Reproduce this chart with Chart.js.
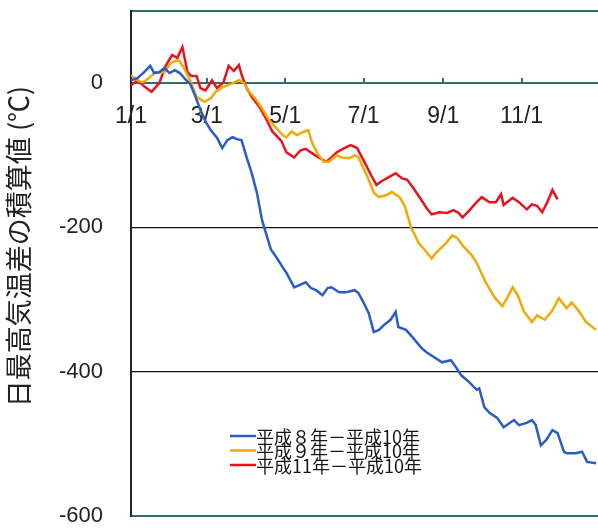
<!DOCTYPE html>
<html lang="ja">
<head>
<meta charset="utf-8">
<script src="https://cdn.jsdelivr.net/npm/chart.js@4/dist/chart.umd.min.js"></script>
<style>
  html, body { margin: 0; padding: 0; background: #fff; overflow: hidden; }
  #wrap { width: 602px; height: 528px; }
</style>
</head>
<body>
<div id="wrap"><canvas id="c" width="602" height="528"></canvas></div>
<script>
// Day of year (0 = 1/1) and cumulative difference of daily max temperature (°C)
const h8Days = [0,5,10,15,18,22,26,30,34,38,42,46,50,54,58,62,67,71,75,79,83,86,90,94,98,102,105,109,113,118,121,127,131,136,140,144,149,153,156,162,167,174,177,181,185,189,193,197,202,206,208,214,219,226,230,236,242,249,253,257,263,269,271,275,279,285,290,298,302,308,312,315,319,323,328,332,337,339,346,351,355,362];
const h8Vals = [4,7,15,24,14,15,21,14,18,14,6,-1,-18,-37,-53,-65,-76,-90,-79,-75,-78,-79,-103,-125,-152,-190,-208,-231,-241,-255,-263,-283,-280,-276,-284,-287,-294,-284,-283,-290,-290,-287,-291,-304,-319,-345,-342,-335,-328,-317,-338,-342,-352,-367,-373,-380,-387,-384,-394,-405,-414,-425,-423,-449,-457,-464,-477,-467,-474,-471,-467,-474,-502,-495,-481,-485,-511,-513,-513,-511,-525,-527];

const h9Days = [0,5,9,14,19,26,31,37,41,47,51,57,62,66,71,78,84,88,92,97,102,107,113,118,121,125,129,135,138,141,145,150,154,160,164,170,174,177,181,185,189,193,199,203,209,213,218,224,230,234,237,245,250,254,259,265,269,276,283,289,293,297,301,306,312,316,322,328,333,339,343,349,354,362];
const h9Vals = [11,4,1,7,15,15,28,32,22,0,-19,-26,-21,-12,-6,-1,4,0,-12,-22,-35,-50,-62,-72,-75,-67,-72,-67,-65,-83,-97,-109,-109,-100,-103,-104,-100,-103,-118,-134,-152,-158,-155,-151,-158,-170,-200,-222,-234,-243,-236,-222,-211,-215,-227,-238,-249,-276,-297,-309,-297,-283,-294,-317,-331,-322,-328,-315,-298,-312,-304,-317,-331,-342];

const h11Days = [0,5,10,16,22,27,32,36,40,44,47,51,54,58,63,67,72,76,80,84,86,90,94,100,105,110,117,121,127,132,136,140,146,152,156,160,166,171,176,181,187,191,195,201,206,211,215,220,226,230,234,240,246,251,255,258,263,269,273,279,284,288,290,297,302,308,312,316,320,324,328,332];
const h11Vals = [-3,4,-4,-12,0,24,39,35,50,15,10,10,-7,-10,4,-7,1,24,17,25,12,-7,-19,-33,-49,-67,-80,-96,-103,-93,-91,-96,-103,-109,-103,-96,-90,-86,-90,-107,-128,-141,-136,-130,-125,-132,-134,-146,-162,-173,-182,-179,-180,-176,-180,-186,-177,-165,-158,-165,-165,-154,-169,-159,-165,-175,-168,-170,-179,-165,-148,-161];

const seriesLabels = ['平成８年－平成10年', '平成９年－平成10年', '平成11年－平成10年'];
const seriesColors = ['#2a5cc6', '#f0aa08', '#e8121e'];

const tickDays = [0, 59, 120, 181, 243, 304];
const tickLabels = ['1/1', '3/1', '5/1', '7/1', '9/1', '11/1'];
const yTickValues = [-600, -400, -200, 0];
const yTitle = '日最高気温差の積算値 (℃)';

const frameTeal = '#2f6d75';
const frameDark = '#1b2333';

const toPoints = (days, vals) => days.map((d, i) => ({ x: d, y: vals[i] }));

// Keep tick-label padding from shrinking the plot area
const noEdgePadding = scale => {
  scale.paddingTop = 0;
  scale.paddingBottom = 0;
  scale.paddingLeft = 0;
  scale.paddingRight = 0;
};

// Legend drawn inside the plot, lower middle
const innerLegend = {
  id: 'innerLegend',
  afterDatasetsDraw(chart) {
    const { ctx, chartArea } = chart;
    const x0 = chartArea.left + 99;
    const y0 = chartArea.top + 425;
    ctx.save();
    ctx.font = '18px "Noto Sans CJK JP"';
    ctx.textBaseline = 'middle';
    ctx.textAlign = 'left';
    chart.data.datasets.forEach((ds, i) => {
      const y = y0 + i * 14.5;
      ctx.strokeStyle = ds.borderColor;
      ctx.lineWidth = 2.5;
      ctx.beginPath();
      ctx.moveTo(x0, y);
      ctx.lineTo(x0 + 26, y);
      ctx.stroke();
      ctx.fillStyle = '#151515';
      ctx.fillText(ds.label, x0 + 26, y + 1);
    });
    ctx.restore();
  }
};

// Vertical axis title
const axisTitle = {
  id: 'axisTitle',
  afterDraw(chart) {
    const { ctx, chartArea } = chart;
    ctx.save();
    ctx.translate(19, (chartArea.top + chartArea.bottom) / 2 - 17);
    ctx.rotate(-Math.PI / 2);
    ctx.font = '27px "Noto Sans CJK JP"';
    ctx.fillStyle = '#222';
    ctx.textAlign = 'center';
    ctx.textBaseline = 'middle';
    ctx.fillText(yTitle, 0, 0);
    ctx.restore();
  }
};

new Chart(document.getElementById('c'), {
  type: 'line',
  data: {
    datasets: [
      { label: seriesLabels[0], data: toPoints(h8Days, h8Vals), borderColor: seriesColors[0] },
      { label: seriesLabels[1], data: toPoints(h9Days, h9Vals), borderColor: seriesColors[1] },
      { label: seriesLabels[2], data: toPoints(h11Days, h11Vals), borderColor: seriesColors[2] }
    ].map(ds => Object.assign(ds, { borderWidth: 2.5, pointRadius: 0, tension: 0, fill: false }))
  },
  options: {
    responsive: false,
    animation: false,
    devicePixelRatio: 1,
    layout: { padding: { left: 0, right: 2, top: 11, bottom: 12 } },
    plugins: { legend: { display: false }, tooltip: { enabled: false } },
    scales: {
      x: {
        type: 'linear',
        position: { y: 0 },
        min: 0,
        max: 365,
        afterBuildTicks(scale) { scale.ticks = tickDays.map(v => ({ value: v })); },
        afterFit: noEdgePadding,
        ticks: {
          autoSkip: false,
          maxRotation: 0,
          padding: 26,
          color: '#222',
          font: { family: '"Liberation Sans", Arial, sans-serif', size: 23 },
          callback: v => tickLabels[tickDays.indexOf(v)]
        },
        grid: { drawOnChartArea: false, drawTicks: true, tickLength: -6, color: frameTeal, lineWidth: 2 },
        border: { display: true, color: frameTeal, width: 2 }
      },
      y: {
        min: -600,
        max: 100,
        afterFit(scale) { noEdgePadding(scale); scale.width = 131; },
        afterBuildTicks(scale) { scale.ticks = yTickValues.concat([100]).map(v => ({ value: v })); },
        ticks: {
          padding: 28,
          color: '#222',
          font: { family: '"Liberation Sans", Arial, sans-serif', size: 22 },
          callback: v => (v === 100 ? '' : String(v))
        },
        grid: {
          drawTicks: false,
          color: ctx => {
            const v = ctx.tick && ctx.tick.value;
            if (v === 100 || v === -600) return frameTeal;
            if (v === 0) return 'rgba(0,0,0,0)';
            return '#111';
          },
          lineWidth: ctx => {
            const v = ctx.tick && ctx.tick.value;
            return (v === 100 || v === -600) ? 2 : 1.2;
          }
        },
        border: { display: true, color: frameDark, width: 2 }
      }
    }
  },
  plugins: [innerLegend, axisTitle]
});
</script>
</body>
</html>
